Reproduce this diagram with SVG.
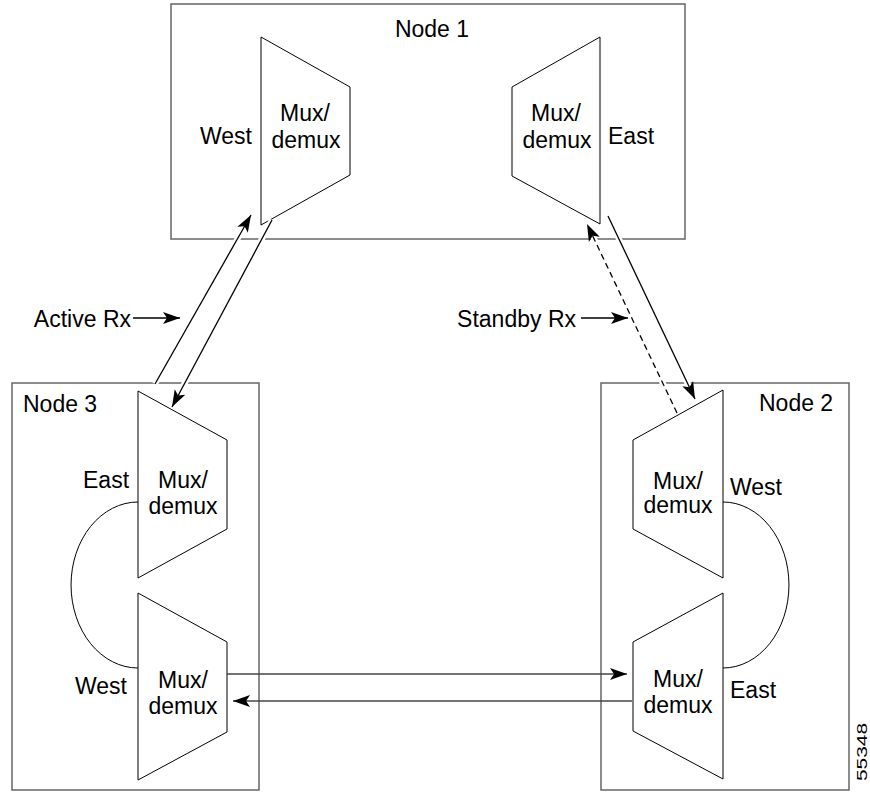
<svg xmlns="http://www.w3.org/2000/svg" width="870" height="795" viewBox="0 0 870 795">
<defs>
<marker id="ah" markerUnits="userSpaceOnUse" markerWidth="18" markerHeight="14" viewBox="0 0 18 14" refX="17" refY="7" orient="auto">
<path d="M0,1 L17,7 L0,13 L4,7 z" fill="#000"/>
</marker>
<style>
.box{fill:#fff;stroke:#666;stroke-width:1.5}
.trap{fill:#fff;stroke:#000;stroke-width:1}
.arc{fill:none;stroke:#000;stroke-width:1}
.t{font-family:"Liberation Sans",Arial,sans-serif;font-size:23px;fill:#000}
.m{text-anchor:middle}
.e{text-anchor:end}
.halo{stroke:#fff;stroke-width:6;fill:none}
.ln{stroke:#000;stroke-width:1.3;fill:none}
.hz{stroke:#444;stroke-width:1.5;fill:none}
.dash{stroke-dasharray:6 4}
</style>
</defs>
<rect width="870" height="795" fill="#fff"/>

<g id="node1">
<rect class="box" x="171" y="4" width="514" height="235"/>
<text class="t m" x="432" y="37">Node 1</text>
<polygon class="trap" points="261,37 350,87 350,175 261,225"/>
<text class="t m" x="305" y="121">Mux/</text>
<text class="t m" x="306" y="148">demux</text>
<text class="t" x="200" y="144">West</text>
<polygon class="trap" points="600,37 512,87 512,176 600,224"/>
<text class="t m" x="556" y="121">Mux/</text>
<text class="t m" x="557" y="148">demux</text>
<text class="t" x="608" y="144">East</text>
</g>

<g id="node3">
<rect class="box" x="12" y="383" width="247" height="407"/>
<text class="t" x="23" y="412">Node 3</text>
<polygon class="trap" points="138,391 227,440 227,529 138,578"/>
<text class="t m" x="183" y="488">Mux/</text>
<text class="t m" x="183" y="514">demux</text>
<text class="t" x="83" y="488">East</text>
<polygon class="trap" points="138,593 227,642 227,732 138,780"/>
<text class="t m" x="183" y="688">Mux/</text>
<text class="t m" x="183" y="714">demux</text>
<text class="t" x="75" y="694">West</text>
<path class="arc" d="M138,502 A67,83 0 0 0 138,668"/>
</g>

<g id="node2">
<rect class="box" x="601" y="383" width="248" height="407"/>
<text class="t" x="759" y="411">Node 2</text>
<polygon class="trap" points="723,390 633,440 633,529 723,578"/>
<text class="t m" x="678" y="489">Mux/</text>
<text class="t m" x="678" y="513">demux</text>
<text class="t" x="730" y="495">West</text>
<polygon class="trap" points="723,593 633,642 633,731 723,779"/>
<text class="t m" x="678" y="687">Mux/</text>
<text class="t m" x="678" y="713">demux</text>
<text class="t" x="730" y="698">East</text>
<path class="arc" d="M723,502 A66,83 0 0 1 723,668"/>
</g>

<g id="connectors">
<path class="halo" d="M155,384 L251,215"/>
<path class="halo" d="M272,220 L172,407"/>
<path class="halo" d="M677,413 L587,224"/>
<path class="halo" d="M608,216 L695,399"/>
<path class="ln" d="M155,384 L251,215" marker-end="url(#ah)"/>
<path class="ln" d="M272,220 L172,407" marker-end="url(#ah)"/>
<path class="ln dash" d="M677,413 L587,224" marker-end="url(#ah)"/>
<path class="ln" d="M608,216 L695,399" marker-end="url(#ah)"/>
<path class="hz" d="M227,674 L627,674" marker-end="url(#ah)"/>
<path class="hz" d="M632,701 L233,701" marker-end="url(#ah)"/>
</g>

<g id="labels">
<text class="t e" x="131" y="327">Active Rx</text>
<path class="ln" d="M133,318 L180,318" marker-end="url(#ah)"/>
<text class="t e" x="576" y="327">Standby Rx</text>
<path class="ln" d="M581,318 L628,318" marker-end="url(#ah)"/>
<text transform="translate(867,752) rotate(-90)" style="font-family:'Liberation Sans',Arial,sans-serif;font-size:15px;text-anchor:middle" textLength="58" lengthAdjust="spacingAndGlyphs">55348</text>
</g>
</svg>
